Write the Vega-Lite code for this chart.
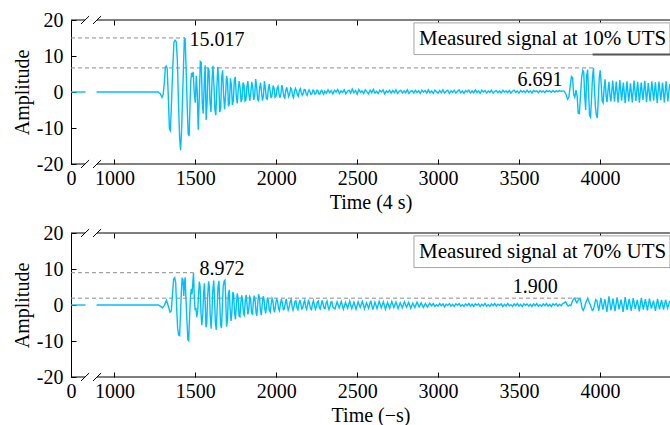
{
"$schema": "https://vega.github.io/schema/vega-lite/v6.json",
"autosize": {"type": "pad"},
"padding": {"left": 12, "top": 10, "right": 0, "bottom": 0},
"bounds": "flush",
"spacing": 69,
"config": {
 "view": {"stroke": null},
 "axis": {"labelFont": "Liberation Serif", "titleFont": "Liberation Serif", "labelFontSize": 20, "titleFontSize": 20, "titleFontWeight": "normal", "labelColor": "black", "titleColor": "black", "tickColor": "black", "domainColor": "black", "grid": false, "labelOverlap": false, "labelFlush": false},
 "text": {"font": "Liberation Serif", "fontSize": 20, "color": "black"}
},
"datasets": {
 "a": [{"t":732,"v":0,"g":0},{"t":822,"v":0,"g":0},
{"t":890,"v":0},{"t":1270,"v":0},{"t":1284,"v":-0.5},{"t":1294,"v":-1.5},{"t":1302,"v":-0.6},{"t":1309,"v":2.8},{"t":1315,"v":6.8},{"t":1320,"v":7.2},{"t":1326,"v":6.6},{"t":1333,"v":-1},{"t":1340,"v":-10.2},{"t":1346,"v":-10.7},{"t":1353,"v":-3},{"t":1361,"v":7},{"t":1368,"v":13.8},{"t":1375,"v":14.4},{"t":1382,"v":14},{"t":1389,"v":9},{"t":1396,"v":-3},{"t":1403,"v":-12.5},{"t":1409,"v":-16.2},{"t":1415,"v":-11},{"t":1421,"v":-2},{"t":1427,"v":7},{"t":1432,"v":14.5},{"t":1437,"v":15.017},{"t":1443,"v":7},{"t":1450,"v":-4},{"t":1456,"v":-11.6},{"t":1462,"v":-12.2},{"t":1467,"v":-4},{"t":1472,"v":3},{"t":1477,"v":5.3},{"t":1482,"v":4.2},{"t":1487,"v":5.6},{"t":1493,"v":0},{"t":1500,"v":-3},{"t":1506,"v":4.5},{"t":1512,"v":0},{"t":1518,"v":-10.5},{"t":1525,"v":-1},{"t":1531,"v":8.5},{"t":1537,"v":8.2},{"t":1543,"v":-3},{"t":1549,"v":-6},{"t":1555,"v":2},{"t":1561,"v":7.4},{"t":1567,"v":-7.8},{"t":1573,"v":-3},{"t":1579,"v":6.8},{"t":1585,"v":5.9},{"t":1591,"v":-3},{"t":1597,"v":-5.6},{"t":1603,"v":3},{"t":1609,"v":7.3},{"t":1615,"v":2},{"t":1621,"v":-5},{"t":1627,"v":-6.4},{"t":1633,"v":1},{"t":1639,"v":7},{"t":1645,"v":3},{"t":1651,"v":-5.6},{"t":1657,"v":-4.5},{"t":1663,"v":4},{"t":1669,"v":6},{"t":1675,"v":-1},{"t":1681,"v":-4.8},{"t":1687,"v":-1},{"t":1693,"v":4.5},{"t":1699,"v":3},{"t":1705,"v":-4},{"t":1711,"v":-3},{"t":1717,"v":3.8},{"t":1723,"v":2},{"t":1729,"v":-3.6},{"t":1735,"v":-2.4},{"t":1741,"v":3.2},{"t":1747,"v":4.2},{"t":1753,"v":-1},{"t":1759,"v":-3.2},{"t":1765,"v":0.5},{"t":1771,"v":3},{"t":1777,"v":1},{"t":1783,"v":-2.8},{"t":1789,"v":-1.8},{"t":1795,"v":2.6},{"t":1801,"v":2},{"t":1807,"v":-2.5},{"t":1813,"v":-2.2},{"t":1819,"v":1.5},{"t":1825,"v":3},{"t":1831,"v":-0.5},{"t":1837,"v":-2.4},{"t":1843,"v":0},{"t":1849,"v":2.8},{"t":1855,"v":1},{"t":1861,"v":-2.2},{"t":1867,"v":-1},{"t":1873,"v":3.6},{"t":1879,"v":1.5},{"t":1885,"v":-2},{"t":1891,"v":-2.4},{"t":1897,"v":1},{"t":1903,"v":2.6},{"t":1909,"v":0},{"t":1915,"v":-2.4},{"t":1921,"v":-1},{"t":1927,"v":3},{"t":1933,"v":1},{"t":1939,"v":-1.8},{"t":1945,"v":-2},{"t":1951,"v":0.8},{"t":1957,"v":2.2},{"t":1963,"v":0},{"t":1969,"v":-1.7},{"t":1975,"v":-0.6},{"t":1981,"v":1.8},{"t":1987,"v":1},{"t":1993,"v":-1.5},{"t":1999,"v":-1.2},{"t":2005,"v":1},{"t":2011,"v":1.6},{"t":2017,"v":-0.4},{"t":2023,"v":-1.6},{"t":2029,"v":-0.5},{"t":2035,"v":1.9},{"t":2041,"v":0.6},{"t":2047,"v":-1.2},{"t":2053,"v":-1.7},{"t":2059,"v":0.4},{"t":2065,"v":1.3},{"t":2071,"v":0},{"t":2077,"v":-1.3},{"t":2083,"v":-0.5},{"t":2089,"v":1.1},{"t":2095,"v":0.8},{"t":2101,"v":-1},{"t":2107,"v":-1.6},{"t":2113,"v":0.2},{"t":2119,"v":1},{"t":2125,"v":0.3},{"t":2131,"v":-0.8},{"t":2137,"v":-1.2},{"t":2143,"v":0.4},{"t":2149,"v":0.9},{"t":2155,"v":-0.2},{"t":2161,"v":-0.9},{"t":2167,"v":-0.4},{"t":2173,"v":0.7},{"t":2179,"v":0.6},{"t":2185,"v":-0.5},{"t":2191,"v":-0.9},{"t":2197,"v":0.1},{"t":2203,"v":0.6},{"t":2209,"v":0},{"t":2215,"v":-0.7},{"t":2221,"v":-0.4},{"t":2227,"v":0.5},{"t":2233,"v":0.3},{"t":2239,"v":-0.6},{"t":2245,"v":-0.4},{"t":2251,"v":0.5},{"t":2257,"v":0.4},{"t":2263,"v":-0.5},{"t":2269,"v":-0.6},{"t":2275,"v":0.2},{"t":2281,"v":0.5},{"t":2287,"v":-0.1},{"t":2293,"v":-0.6},
{"t":2300,"v":0.3},{"t":2310,"v":-0.3},{"t":2320,"v":0.6},{"t":2330,"v":-0.2},{"t":2340,"v":0.4},{"t":2350,"v":-0.5},{"t":2360,"v":0.5},{"t":2370,"v":0},{"t":2380,"v":0.7},{"t":2390,"v":-0.4},{"t":2400,"v":0.3},{"t":2410,"v":-0.1},{"t":2420,"v":0.6},{"t":2430,"v":-0.5},{"t":2440,"v":0.2},{"t":2450,"v":0.5},{"t":2460,"v":-0.3},{"t":2470,"v":0.8},{"t":2480,"v":-0.2},{"t":2490,"v":0.4},{"t":2500,"v":-0.6},{"t":2510,"v":0.7},{"t":2520,"v":-0.1},{"t":2530,"v":0.3},{"t":2540,"v":-0.4},{"t":2550,"v":0.6},{"t":2560,"v":0.1},{"t":2570,"v":-0.5},{"t":2580,"v":0.5},{"t":2590,"v":-0.2},{"t":2600,"v":0.7},{"t":2610,"v":-0.3},{"t":2620,"v":0.2},{"t":2630,"v":-0.4},{"t":2640,"v":0.5},{"t":2650,"v":0},{"t":2660,"v":0.6},{"t":2670,"v":-0.5},{"t":2680,"v":0.3},{"t":2690,"v":-0.1},{"t":2700,"v":0.5},{"t":2710,"v":-0.3},{"t":2720,"v":0.4},{"t":2730,"v":-0.2},{"t":2740,"v":0.6},{"t":2750,"v":-0.4},{"t":2760,"v":0.2},{"t":2770,"v":0.5},{"t":2780,"v":-0.3},{"t":2790,"v":0.3},{"t":2800,"v":-0.2},{"t":2810,"v":0.6},{"t":2820,"v":-0.4},{"t":2830,"v":0.2},{"t":2840,"v":0.4},{"t":2850,"v":-0.3},{"t":2860,"v":0.5},{"t":2870,"v":-0.1},{"t":2880,"v":0.3},{"t":2890,"v":-0.4},{"t":2900,"v":0.5},{"t":2910,"v":0},{"t":2920,"v":0.4},{"t":2930,"v":-0.3},{"t":2940,"v":0.6},{"t":2950,"v":-0.2},{"t":2960,"v":0.3},{"t":2970,"v":-0.4},{"t":2980,"v":0.5},{"t":2990,"v":0.1},{"t":3000,"v":-0.3},{"t":3010,"v":0.4},{"t":3020,"v":-0.2},{"t":3030,"v":0.6},{"t":3040,"v":-0.3},{"t":3050,"v":0.2},{"t":3060,"v":0.5},{"t":3070,"v":-0.4},{"t":3080,"v":0.3},{"t":3090,"v":-0.1},{"t":3100,"v":0.5},{"t":3110,"v":-0.3},{"t":3120,"v":0.2},{"t":3130,"v":0.6},{"t":3140,"v":-0.2},{"t":3150,"v":0.3},{"t":3160,"v":-0.4},{"t":3170,"v":0.4},{"t":3180,"v":0},{"t":3190,"v":0.5},{"t":3200,"v":-0.3},{"t":3210,"v":0.3},{"t":3220,"v":-0.2},{"t":3230,"v":0.6},{"t":3240,"v":-0.1},{"t":3250,"v":0.3},{"t":3260,"v":-0.4},{"t":3270,"v":0.5},{"t":3280,"v":0},{"t":3290,"v":0.4},{"t":3300,"v":-0.3},{"t":3310,"v":0.3},{"t":3320,"v":-0.1},{"t":3330,"v":0.5},{"t":3340,"v":-0.3},{"t":3350,"v":0.2},{"t":3360,"v":0.4},{"t":3370,"v":-0.2},{"t":3380,"v":0.3},{"t":3390,"v":-0.3},{"t":3400,"v":0.5},{"t":3410,"v":0},{"t":3420,"v":0.3},{"t":3430,"v":-0.2},{"t":3440,"v":0.4},{"t":3450,"v":-0.3},{"t":3460,"v":0.2},{"t":3470,"v":0.5},{"t":3480,"v":-0.1},{"t":3490,"v":0.3},{"t":3500,"v":-0.3},{"t":3510,"v":0.4},{"t":3520,"v":0},{"t":3530,"v":0.3},{"t":3540,"v":-0.2},{"t":3550,"v":0.5},{"t":3560,"v":-0.1},{"t":3570,"v":0.3},{"t":3580,"v":-0.3},{"t":3590,"v":0.4},{"t":3600,"v":0.1},{"t":3610,"v":0.3},{"t":3620,"v":-0.2},{"t":3630,"v":0.4},{"t":3640,"v":0},{"t":3650,"v":0.3},{"t":3660,"v":-0.2},{"t":3670,"v":0.4},{"t":3680,"v":0.1},{"t":3690,"v":0.3},{"t":3700,"v":-0.1},{"t":3710,"v":0.4},{"t":3720,"v":0},{"t":3730,"v":0.3},{"t":3740,"v":0.1},{"t":3750,"v":0.4},{"t":3760,"v":0.2},{"t":3770,"v":0.3},{"t":3780,"v":0.2},
{"t":3790,"v":-0.6},{"t":3800,"v":-2},{"t":3808,"v":-1.5},{"t":3816,"v":1.5},{"t":3824,"v":4.3},{"t":3831,"v":4},{"t":3838,"v":-0.8},{"t":3845,"v":-1.5},{"t":3852,"v":0.5},{"t":3859,"v":-1},{"t":3866,"v":-5.9},{"t":3873,"v":-6},{"t":3880,"v":-1},{"t":3887,"v":4},{"t":3894,"v":6},{"t":3900,"v":5.5},{"t":3906,"v":-1},{"t":3912,"v":-5},{"t":3918,"v":4.5},{"t":3924,"v":6.2},{"t":3930,"v":0},{"t":3936,"v":-6.5},{"t":3942,"v":-7},{"t":3948,"v":-2},{"t":3954,"v":4},{"t":3960,"v":6.691},{"t":3966,"v":1},{"t":3972,"v":-4},{"t":3978,"v":-6.5},{"t":3984,"v":-7.2},{"t":3990,"v":-2},{"t":3996,"v":4},{"t":4002,"v":6},{"t":4008,"v":2},{"t":4014,"v":-2.5},{"t":4020,"v":-3},{"t":4026,"v":1},{"t":4032,"v":3.5},{"t":4038,"v":-1},{"t":4044,"v":-2.8},{"t":4050,"v":0.5},{"t":4056,"v":2.8},{"t":4062,"v":-1},{"t":4068,"v":-2.6},
{"t":4079,"v":3.2},{"t":4090,"v":-2.7},{"t":4101,"v":2.9},{"t":4112,"v":-3},{"t":4123,"v":3.3},{"t":4134,"v":-2.4},{"t":4145,"v":2.6},{"t":4156,"v":-3.1},{"t":4167,"v":3},{"t":4178,"v":-2.6},{"t":4189,"v":2.4},{"t":4200,"v":-2.9},{"t":4211,"v":3.2},{"t":4222,"v":-2.5},{"t":4233,"v":2.8},{"t":4244,"v":-3},{"t":4255,"v":2.6},{"t":4266,"v":-2.2},{"t":4277,"v":3.1},{"t":4288,"v":-2.8},{"t":4299,"v":2.5},{"t":4310,"v":-2.6},{"t":4321,"v":3},{"t":4332,"v":-2.4},{"t":4343,"v":2.7},{"t":4354,"v":-3.1},{"t":4365,"v":2.9},{"t":4376,"v":-2.3},{"t":4387,"v":2.6},{"t":4398,"v":-2.9},{"t":4409,"v":3},{"t":4420,"v":-2.6},{"t":4431,"v":2.2}],
 "b": [{"t":732,"v":0,"g":0},{"t":822,"v":0,"g":0},
{"t":890,"v":0},{"t":1272,"v":0},{"t":1285,"v":-0.4},{"t":1297,"v":-0.8},{"t":1309,"v":-0.1},{"t":1322,"v":1.3},{"t":1334,"v":-0.4},{"t":1344,"v":-2},{"t":1352,"v":-1.6},{"t":1359,"v":3},{"t":1366,"v":7.2},{"t":1373,"v":7.6},{"t":1379,"v":6},{"t":1385,"v":-1},{"t":1391,"v":-6.5},{"t":1397,"v":-8.3},{"t":1403,"v":-8.5},{"t":1409,"v":-2},{"t":1414,"v":4},{"t":1419,"v":7.6},{"t":1424,"v":7},{"t":1429,"v":2.5},{"t":1433,"v":6},{"t":1437,"v":7.7},{"t":1443,"v":1},{"t":1449,"v":-5},{"t":1454,"v":-9.6},{"t":1459,"v":-9.9},{"t":1465,"v":-3},{"t":1470,"v":2},{"t":1475,"v":4.5},{"t":1480,"v":3},{"t":1485,"v":6.5},{"t":1489,"v":8.972},{"t":1494,"v":2},{"t":1499,"v":-1.5},{"t":1504,"v":-0.8},{"t":1509,"v":-3.4},{"t":1515,"v":-1.5},{"t":1520,"v":3},{"t":1525,"v":6.5},{"t":1530,"v":5},{"t":1535,"v":-2},{"t":1540,"v":-5.6},{"t":1546,"v":-3},{"t":1551,"v":3},{"t":1556,"v":6},{"t":1561,"v":1},{"t":1566,"v":-6.2},{"t":1571,"v":-5},{"t":1576,"v":2},{"t":1582,"v":6.6},{"t":1587,"v":5},{"t":1592,"v":-3},{"t":1598,"v":-6.6},{"t":1603,"v":-2},{"t":1608,"v":4},{"t":1614,"v":6.8},{"t":1619,"v":2},{"t":1624,"v":-5},{"t":1630,"v":-6.9},{"t":1635,"v":-1},{"t":1640,"v":5},{"t":1646,"v":6.7},{"t":1651,"v":1},{"t":1656,"v":-5.5},{"t":1662,"v":-6.4},{"t":1667,"v":-1},{"t":1672,"v":5},{"t":1678,"v":6.6},{"t":1683,"v":6.9},{"t":1688,"v":2},{"t":1693,"v":-6},{"t":1699,"v":-4.2},{"t":1704,"v":3},{"t":1710,"v":4.2},{"t":1715,"v":-1},{"t":1721,"v":-4.4},{"t":1726,"v":-2},{"t":1732,"v":3.6},{"t":1737,"v":2.8},{"t":1743,"v":-2.2},{"t":1748,"v":-4},{"t":1754,"v":0},{"t":1759,"v":3.2},{"t":1765,"v":2},{"t":1770,"v":-3},{"t":1776,"v":-3.3},{"t":1781,"v":0.5},{"t":1787,"v":2.7},{"t":1792,"v":1},{"t":1798,"v":-2.5},{"t":1803,"v":-2.9},{"t":1809,"v":1.5},{"t":1814,"v":2.8},{"t":1820,"v":0},{"t":1825,"v":-2.6},{"t":1831,"v":-1},{"t":1836,"v":2.3},{"t":1842,"v":1.8},{"t":1847,"v":-2},{"t":1853,"v":-2.7},{"t":1858,"v":0.5},{"t":1864,"v":2.6},{"t":1869,"v":1.5},{"t":1875,"v":-2},{"t":1880,"v":-3},{"t":1886,"v":0.5},{"t":1891,"v":3},{"t":1897,"v":2},{"t":1902,"v":-1.5},{"t":1908,"v":-2.8},{"t":1913,"v":0},{"t":1919,"v":2.4},{"t":1924,"v":1.8},{"t":1930,"v":-1.2},{"t":1935,"v":-2.3},{"t":1941,"v":0},{"t":1946,"v":2},{"t":1952,"v":1.2},{"t":1957,"v":-1.5},{"t":1963,"v":-2},{"t":1968,"v":0},{"t":1974,"v":1.8},{"t":1979,"v":1.2},{"t":1985,"v":-1.2},{"t":1990,"v":-2},{"t":1996,"v":0},{"t":2002,"v":1.6},{"t":2008,"v":1.2},{"t":2014,"v":-1},{"t":2020,"v":-1.6},{"t":2026,"v":0.3},{"t":2032,"v":1.6},{"t":2038,"v":0.5},{"t":2044,"v":-1.3},{"t":2050,"v":-1.1},{"t":2056,"v":0.6},{"t":2062,"v":1.7},{"t":2068,"v":-0.2},{"t":2074,"v":-1.4},{"t":2080,"v":-0.6},{"t":2086,"v":0.9},{"t":2092,"v":1.5},{"t":2098,"v":-0.4},{"t":2104,"v":-1.4},{"t":2110,"v":-0.4},{"t":2116,"v":1},{"t":2122,"v":1.2},{"t":2128,"v":-0.8},{"t":2134,"v":-1.3},{"t":2140,"v":0.2},{"t":2146,"v":1.4},{"t":2152,"v":0.3},{"t":2158,"v":-1.1},{"t":2164,"v":-0.8},{"t":2170,"v":0.6},{"t":2176,"v":1.3},{"t":2182,"v":-0.6},{"t":2188,"v":-1.2},{"t":2194,"v":0.1},{"t":2200,"v":1.5},{"t":2206,"v":0.2},{"t":2212,"v":-1},{"t":2218,"v":-1.3},{"t":2224,"v":0.4},{"t":2230,"v":1.2},{"t":2236,"v":-0.1},{"t":2242,"v":-1.2},{"t":2248,"v":-0.6},{"t":2254,"v":0.8},{"t":2260,"v":1.1},{"t":2266,"v":-0.7},{"t":2272,"v":-1.1},{"t":2278,"v":0.2},{"t":2284,"v":1.3},{"t":2290,"v":0.2},{"t":2296,"v":-0.9},{"t":2302,"v":-1},{"t":2308,"v":0.5},{"t":2314,"v":1.1},{"t":2320,"v":-0.3},{"t":2326,"v":-1.2},{"t":2332,"v":-0.4},{"t":2338,"v":0.8},{"t":2344,"v":0.9},{"t":2350,"v":-0.6},
{"t":2363,"v":-1.1},{"t":2376,"v":0.9},{"t":2389,"v":-0.8},{"t":2402,"v":1},{"t":2415,"v":-1.2},{"t":2428,"v":0.7},{"t":2441,"v":-0.9},{"t":2454,"v":1.1},{"t":2467,"v":-1},{"t":2480,"v":0.8},{"t":2493,"v":-1.2},{"t":2506,"v":0.9},{"t":2519,"v":-0.7},{"t":2532,"v":1},{"t":2545,"v":-1.1},{"t":2558,"v":0.6},{"t":2571,"v":-0.9},{"t":2584,"v":1.2},{"t":2597,"v":-1.3},{"t":2610,"v":0.8},{"t":2623,"v":-1},{"t":2636,"v":1},{"t":2649,"v":-0.8},{"t":2662,"v":0.9},{"t":2675,"v":-1.2},{"t":2688,"v":0.7},{"t":2701,"v":-0.9},{"t":2714,"v":1},{"t":2727,"v":-0.7},{"t":2740,"v":0.8},{"t":2753,"v":-1},{"t":2766,"v":0.6},{"t":2779,"v":-0.8},{"t":2792,"v":0.9},{"t":2805,"v":-0.6},{"t":2818,"v":0.7},{"t":2831,"v":-0.9},{"t":2844,"v":0.5},{"t":2857,"v":-0.7},{"t":2870,"v":0.8},{"t":2883,"v":-0.5},{"t":2896,"v":0.6},{"t":2909,"v":-0.7},{"t":2922,"v":0.4},{"t":2935,"v":-0.6},{"t":2948,"v":0.5},
{"t":2960,"v":-0.2},{"t":2970,"v":0.4},{"t":2980,"v":-0.4},{"t":2990,"v":0.1},{"t":3000,"v":-0.3},{"t":3010,"v":0.4},{"t":3020,"v":-0.2},{"t":3030,"v":0.3},{"t":3040,"v":-0.5},{"t":3050,"v":0.2},{"t":3060,"v":-0.1},{"t":3070,"v":0.4},{"t":3080,"v":-0.3},{"t":3090,"v":0.2},{"t":3100,"v":-0.4},{"t":3110,"v":0.3},{"t":3120,"v":-0.1},{"t":3130,"v":0.4},{"t":3140,"v":-0.3},{"t":3150,"v":0.1},{"t":3160,"v":-0.4},{"t":3170,"v":0.3},{"t":3180,"v":-0.2},{"t":3190,"v":0.4},{"t":3200,"v":-0.3},{"t":3210,"v":0.2},{"t":3220,"v":-0.4},{"t":3230,"v":0.3},{"t":3240,"v":-0.1},{"t":3250,"v":0.3},{"t":3260,"v":-0.4},{"t":3270,"v":0.2},{"t":3280,"v":-0.2},{"t":3290,"v":0.4},{"t":3300,"v":-0.3},{"t":3310,"v":0.1},{"t":3320,"v":-0.4},{"t":3330,"v":0.3},{"t":3340,"v":-0.2},{"t":3350,"v":0.4},{"t":3360,"v":-0.3},{"t":3370,"v":0.2},{"t":3380,"v":-0.1},{"t":3390,"v":0.3},{"t":3400,"v":-0.4},{"t":3410,"v":0.2},{"t":3420,"v":-0.3},{"t":3430,"v":0.4},{"t":3440,"v":-0.2},{"t":3450,"v":0.1},{"t":3460,"v":-0.4},{"t":3470,"v":0.3},{"t":3480,"v":-0.2},{"t":3490,"v":0.4},{"t":3500,"v":-0.3},{"t":3510,"v":0.2},{"t":3520,"v":-0.4},{"t":3530,"v":0.3},{"t":3540,"v":-0.1},{"t":3550,"v":0.3},{"t":3560,"v":-0.3},{"t":3570,"v":0.2},{"t":3580,"v":-0.4},{"t":3590,"v":0.3},{"t":3600,"v":-0.2},{"t":3610,"v":0.4},{"t":3620,"v":-0.3},{"t":3630,"v":0.1},{"t":3640,"v":-0.4},{"t":3650,"v":0.3},{"t":3660,"v":-0.2},{"t":3670,"v":0.4},{"t":3680,"v":-0.3},{"t":3690,"v":0.2},{"t":3700,"v":-0.4},{"t":3710,"v":0.3},{"t":3720,"v":-0.1},{"t":3730,"v":0.4},{"t":3740,"v":-0.3},{"t":3750,"v":0.2},{"t":3760,"v":-0.2},{"t":3770,"v":0.4},
{"t":3780,"v":0.6},{"t":3788,"v":0.9},{"t":3796,"v":0.2},{"t":3804,"v":-0.3},{"t":3812,"v":0},{"t":3820,"v":-0.2},{"t":3828,"v":0.8},{"t":3836,"v":1.6},{"t":3844,"v":1.9},{"t":3852,"v":1},{"t":3858,"v":0.6},{"t":3864,"v":1.2},{"t":3870,"v":1.7},{"t":3877,"v":1.9},{"t":3884,"v":0.5},{"t":3890,"v":-1},{"t":3897,"v":-1.5},{"t":3904,"v":-0.8},{"t":3911,"v":0.4},{"t":3918,"v":1.2},{"t":3925,"v":1.9},{"t":3932,"v":1},{"t":3939,"v":0.2},{"t":3946,"v":-0.6},{"t":3953,"v":-1.5},{"t":3960,"v":-1.3},{"t":3967,"v":0.2},{"t":3974,"v":1.5},{"t":3981,"v":1.2},
{"t":3993,"v":-1.6},{"t":4006,"v":2},{"t":4018,"v":-1.3},{"t":4031,"v":1.6},{"t":4043,"v":-1.9},{"t":4056,"v":2.4},{"t":4068,"v":-1.5},{"t":4081,"v":1.8},{"t":4093,"v":-1.7},{"t":4106,"v":2.1},{"t":4118,"v":-1.2},{"t":4131,"v":1.5},{"t":4143,"v":-1.9},{"t":4156,"v":2.2},{"t":4168,"v":-1.4},{"t":4181,"v":1.7},{"t":4193,"v":-1.6},{"t":4206,"v":1.9},{"t":4218,"v":-1.1},{"t":4231,"v":1.4},{"t":4243,"v":-1.8},{"t":4256,"v":2},{"t":4268,"v":-1.3},{"t":4281,"v":1.6},{"t":4293,"v":-1.5},{"t":4306,"v":1.8},{"t":4318,"v":-1},{"t":4331,"v":1.2},{"t":4343,"v":-1.6},{"t":4356,"v":1.7},{"t":4368,"v":-1.2},{"t":4381,"v":1.4},{"t":4393,"v":-1.3},{"t":4406,"v":1.5},{"t":4418,"v":-0.9},{"t":4431,"v":1.1}]
},
"vconcat": [
 {
  "width": 599, "height": 144,
  "resolve": {"axis": {"x": "independent", "y": "independent"}},
  "layer": [
   {"data": {"values": [{"x1":732,"x2":819,"y":-20},{"x1":893,"x2":4433,"y":-20},{"x1":732,"x2":819,"y":20},{"x1":893,"x2":4433,"y":20}]},
    "mark": {"type": "rule", "color": "black", "strokeWidth": 1},
    "encoding": {
     "x": {"field": "x1", "type": "quantitative", "scale": {"domain": [732, 4433], "nice": false, "zero": false}, "axis": {"orient": "top", "values": [1000,1500,2000,2500,3000,3500,4000], "labels": false, "domain": false, "tickSize": -5, "title": null}},
     "x2": {"field": "x2"},
     "y": {"field": "y", "type": "quantitative", "scale": {"domain": [-20, 20], "nice": false, "zero": false}, "axis": null}}},
   {"data": {"values": [{"x1":794,"x2":844,"y1":-21.1,"y2":-18.9},{"x1":868,"x2":918,"y1":-21.1,"y2":-18.9},{"x1":794,"x2":844,"y1":18.9,"y2":21.1},{"x1":868,"x2":918,"y1":18.9,"y2":21.1}]},
    "mark": {"type": "rule", "color": "black", "strokeWidth": 1},
    "encoding": {
     "x": {"field": "x1", "type": "quantitative", "scale": {"domain": [732, 4433], "nice": false, "zero": false}, "axis": null},
     "x2": {"field": "x2"},
     "y": {"field": "y1", "type": "quantitative", "scale": {"domain": [-20, 20], "nice": false, "zero": false}, "axis": null},
     "y2": {"field": "y2"}}},
   {"data": {"values": [{"x1":732,"x2":1437,"y":15.017},{"x1":732,"x2":3960,"y":6.691}]},
    "mark": {"type": "rule", "color": "#8c8c8c", "strokeWidth": 1, "strokeDash": [4, 3]},
    "encoding": {
     "x": {"field": "x1", "type": "quantitative", "scale": {"domain": [732, 4433], "nice": false, "zero": false}, "axis": null},
     "x2": {"field": "x2"},
     "y": {"field": "y", "type": "quantitative", "scale": {"domain": [-20, 20], "nice": false, "zero": false}, "axis": null}}},
   {"data": {"name": "a"},
    "mark": {"type": "line", "color": "#00bfff", "strokeWidth": 1.4},
    "encoding": {
     "x": {"field": "t", "type": "quantitative", "scale": {"domain": [732, 4433], "nice": false, "zero": false}, "axis": {"orient": "bottom", "values": [732,1000,1500,2000,2500,3000,3500,4000], "format": "d", "labelExpr": "datum.value < 900 ? '0' : datum.label", "domain": false, "tickSize": -5, "labelPadding": 9, "title": "Time (4 s)", "titlePadding": 4}},
     "y": {"field": "v", "type": "quantitative", "scale": {"domain": [-20, 20], "nice": false, "zero": false}, "axis": {"orient": "left", "values": [-20,-10,0,10,20], "labelExpr": "'' + datum.value", "domain": true, "tickSize": -5, "labelPadding": 13, "title": "Amplitude", "titlePadding": 4}},
     "detail": {"field": "g"}}},
   {"data": {"values": [{"t":1634,"v":14.4,"s":"15.017"},{"t":3630,"v":3.4,"s":"6.691"}]},
    "mark": {"type": "text", "align": "center", "baseline": "middle"},
    "encoding": {
     "x": {"field": "t", "type": "quantitative", "scale": {"domain": [732, 4433], "nice": false, "zero": false}, "axis": null},
     "y": {"field": "v", "type": "quantitative", "scale": {"domain": [-20, 20], "nice": false, "zero": false}, "axis": null},
     "text": {"field": "s"}}},
   {"data": {"values": [{"x1":2851,"x2":4433,"y1":19.2,"y2":10.4}]},
    "mark": {"type": "rect", "fill": "white", "stroke": "#a6a6a6", "strokeWidth": 1},
    "encoding": {
     "x": {"field": "x1", "type": "quantitative", "scale": {"domain": [732, 4433], "nice": false, "zero": false}, "axis": null},
     "x2": {"field": "x2"},
     "y": {"field": "y1", "type": "quantitative", "scale": {"domain": [-20, 20], "nice": false, "zero": false}, "axis": null},
     "y2": {"field": "y2"}}},
   {"data": {"values": [{"x1":3955,"x2":4433,"y":10.4}]},
    "mark": {"type": "rule", "color": "#555555", "strokeWidth": 2},
    "encoding": {
     "x": {"field": "x1", "type": "quantitative", "scale": {"domain": [732, 4433], "nice": false, "zero": false}, "axis": null},
     "x2": {"field": "x2"},
     "y": {"field": "y", "type": "quantitative", "scale": {"domain": [-20, 20], "nice": false, "zero": false}, "axis": null}}},
   {"data": {"values": [{"t":2882,"v":14.8,"s":"Measured signal at 10% UTS"}]},
    "mark": {"type": "text", "align": "left", "baseline": "middle", "fontSize": 21},
    "encoding": {
     "x": {"field": "t", "type": "quantitative", "scale": {"domain": [732, 4433], "nice": false, "zero": false}, "axis": null},
     "y": {"field": "v", "type": "quantitative", "scale": {"domain": [-20, 20], "nice": false, "zero": false}, "axis": null},
     "text": {"field": "s"}}}
  ]
 },
 {
  "width": 599, "height": 144,
  "resolve": {"axis": {"x": "independent", "y": "independent"}},
  "layer": [
   {"data": {"values": [{"x1":732,"x2":819,"y":-20},{"x1":893,"x2":4433,"y":-20},{"x1":732,"x2":819,"y":20},{"x1":893,"x2":4433,"y":20}]},
    "mark": {"type": "rule", "color": "black", "strokeWidth": 1},
    "encoding": {
     "x": {"field": "x1", "type": "quantitative", "scale": {"domain": [732, 4433], "nice": false, "zero": false}, "axis": {"orient": "top", "values": [1000,1500,2000,2500,3000,3500,4000], "labels": false, "domain": false, "tickSize": -5, "title": null}},
     "x2": {"field": "x2"},
     "y": {"field": "y", "type": "quantitative", "scale": {"domain": [-20, 20], "nice": false, "zero": false}, "axis": null}}},
   {"data": {"values": [{"x1":794,"x2":844,"y1":-21.1,"y2":-18.9},{"x1":868,"x2":918,"y1":-21.1,"y2":-18.9},{"x1":794,"x2":844,"y1":18.9,"y2":21.1},{"x1":868,"x2":918,"y1":18.9,"y2":21.1}]},
    "mark": {"type": "rule", "color": "black", "strokeWidth": 1},
    "encoding": {
     "x": {"field": "x1", "type": "quantitative", "scale": {"domain": [732, 4433], "nice": false, "zero": false}, "axis": null},
     "x2": {"field": "x2"},
     "y": {"field": "y1", "type": "quantitative", "scale": {"domain": [-20, 20], "nice": false, "zero": false}, "axis": null},
     "y2": {"field": "y2"}}},
   {"data": {"values": [{"x1":732,"x2":1489,"y":8.972},{"x1":732,"x2":3877,"y":1.9}]},
    "mark": {"type": "rule", "color": "#8c8c8c", "strokeWidth": 1, "strokeDash": [4, 3]},
    "encoding": {
     "x": {"field": "x1", "type": "quantitative", "scale": {"domain": [732, 4433], "nice": false, "zero": false}, "axis": null},
     "x2": {"field": "x2"},
     "y": {"field": "y", "type": "quantitative", "scale": {"domain": [-20, 20], "nice": false, "zero": false}, "axis": null}}},
   {"data": {"name": "b"},
    "mark": {"type": "line", "color": "#00bfff", "strokeWidth": 1.4},
    "encoding": {
     "x": {"field": "t", "type": "quantitative", "scale": {"domain": [732, 4433], "nice": false, "zero": false}, "axis": {"orient": "bottom", "values": [732,1000,1500,2000,2500,3000,3500,4000], "format": "d", "labelExpr": "datum.value < 900 ? '0' : datum.label", "domain": false, "tickSize": -5, "labelPadding": 9, "title": "Time (−s)", "titlePadding": 4}},
     "y": {"field": "v", "type": "quantitative", "scale": {"domain": [-20, 20], "nice": false, "zero": false}, "axis": {"orient": "left", "values": [-20,-10,0,10,20], "labelExpr": "'' + datum.value", "domain": true, "tickSize": -5, "labelPadding": 13, "title": "Amplitude", "titlePadding": 4}},
     "detail": {"field": "g"}}},
   {"data": {"values": [{"t":1665,"v":10,"s":"8.972"},{"t":3600,"v":5,"s":"1.900"}]},
    "mark": {"type": "text", "align": "center", "baseline": "middle"},
    "encoding": {
     "x": {"field": "t", "type": "quantitative", "scale": {"domain": [732, 4433], "nice": false, "zero": false}, "axis": null},
     "y": {"field": "v", "type": "quantitative", "scale": {"domain": [-20, 20], "nice": false, "zero": false}, "axis": null},
     "text": {"field": "s"}}},
   {"data": {"values": [{"x1":2851,"x2":4433,"y1":19.2,"y2":10.4}]},
    "mark": {"type": "rect", "fill": "white", "stroke": "#a6a6a6", "strokeWidth": 1},
    "encoding": {
     "x": {"field": "x1", "type": "quantitative", "scale": {"domain": [732, 4433], "nice": false, "zero": false}, "axis": null},
     "x2": {"field": "x2"},
     "y": {"field": "y1", "type": "quantitative", "scale": {"domain": [-20, 20], "nice": false, "zero": false}, "axis": null},
     "y2": {"field": "y2"}}},
   {"data": {"values": [{"t":2882,"v":14.8,"s":"Measured signal at 70% UTS"}]},
    "mark": {"type": "text", "align": "left", "baseline": "middle", "fontSize": 21},
    "encoding": {
     "x": {"field": "t", "type": "quantitative", "scale": {"domain": [732, 4433], "nice": false, "zero": false}, "axis": null},
     "y": {"field": "v", "type": "quantitative", "scale": {"domain": [-20, 20], "nice": false, "zero": false}, "axis": null},
     "text": {"field": "s"}}}
  ]
 }
]
}
